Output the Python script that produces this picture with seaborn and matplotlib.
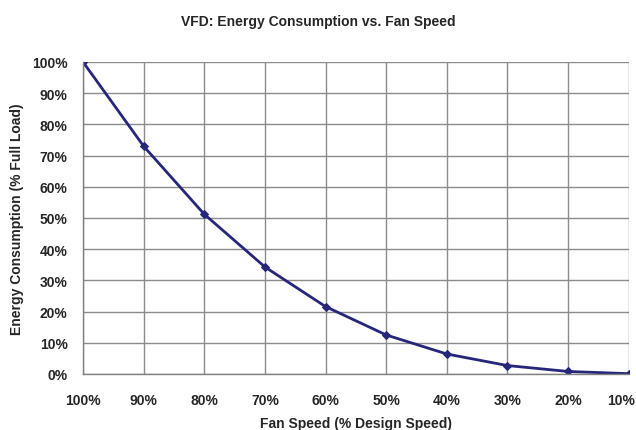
import pandas as pd
import seaborn as sns
import matplotlib.pyplot as plt
import matplotlib.transforms as mtransforms
from matplotlib.ticker import FuncFormatter

sns.set_style('white')
plt.rcParams['font.family'] = ['Liberation Sans', 'DejaVu Sans']
plt.rcParams['font.weight'] = 'bold'

fan_speed = ['100%', '90%', '80%', '70%', '60%', '50%', '40%', '30%', '20%', '10%']
energy = [100, 73, 51.2, 34.3, 21.6, 12.5, 6.4, 2.7, 0.8, 0.1]

df = pd.DataFrame({'pos': range(len(fan_speed)), 'Fan Speed': fan_speed, 'Energy': energy})

fig = plt.figure(figsize=(6.36, 4.31), dpi=100)
ax = fig.add_axes([0.1305, 0.13, 0.858, 0.724])

sns.lineplot(x='pos', y='Energy', data=df, ax=ax, color='#26267a', linewidth=2,
             marker='D', markersize=4.5, markeredgecolor='#26267a')

ax.set_xlim(0, len(fan_speed) - 1)
ax.set_ylim(0, 100)
ax.set_xticks(df['pos'])
ax.set_xticklabels(fan_speed)
ax.set_yticks(range(0, 101, 10))
ax.yaxis.set_major_formatter(FuncFormatter(lambda v, _: f'{v:.0f}%'))

ax.grid(True, color='#8c8c8c', linewidth=1.0)
ax.set_axisbelow(True)
for side in ['top', 'right']:
    ax.spines[side].set_visible(False)
for side in ['left', 'bottom']:
    ax.spines[side].set_color('#808080')
    ax.spines[side].set_linewidth(1.0)

ax.tick_params(axis='both', length=5, width=1, color='#808080', labelsize=10, pad=6)
ax.tick_params(axis='x', pad=9)
for lbl in ax.get_xticklabels() + ax.get_yticklabels():
    lbl.set_fontweight('bold')

# keep the last x label inside the figure, like the reference
last = ax.get_xticklabels()[-1]
last.set_horizontalalignment('right')
last.set_transform(last.get_transform() + mtransforms.ScaledTranslation(0.06, 0, fig.dpi_scale_trans))

ax.set_xlabel('Fan Speed (% Design Speed)', fontsize=10, fontweight='bold', labelpad=6)
ax.set_ylabel('Energy Consumption (% Full Load)', fontsize=10, fontweight='bold', labelpad=6)
fig.suptitle('VFD: Energy Consumption vs. Fan Speed', fontsize=10, fontweight='bold', y=0.965)

fig.savefig('out.png', dpi=100)
